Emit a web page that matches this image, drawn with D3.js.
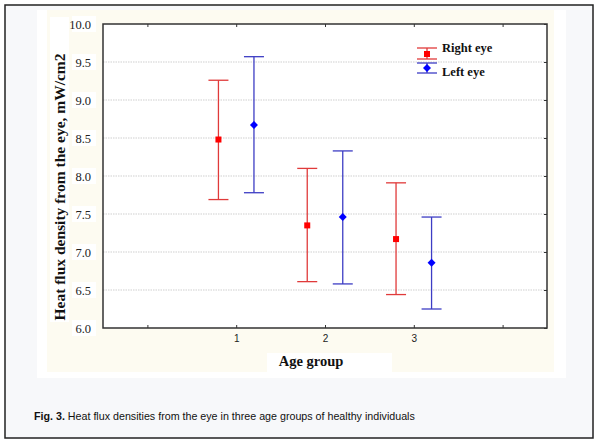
<!DOCTYPE html>
<html>
<head>
<meta charset="utf-8">
<script src="https://cdn.jsdelivr.net/npm/d3@7"></script>
<style>
body { margin: 0; background: #fff; }
</style>
</head>
<body>
<svg class="chart" width="600" height="445"></svg>
<script>
var groups = [1, 2, 3];
var seriesNames = ["Right eye", "Left eye"];
var rightMean = [8.48, 7.35, 7.17];
var rightLow = [7.69, 6.61, 6.44];
var rightHigh = [9.26, 8.10, 7.91];
var leftMean = [8.67, 7.46, 6.86];
var leftLow = [7.78, 6.58, 6.25];
var leftHigh = [9.57, 8.33, 7.46];
var yTicks = [6.0, 6.5, 7.0, 7.5, 8.0, 8.5, 9.0, 9.5, 10.0];
var xTicks = [0, 1, 2, 3, 4];

var lineColors = ["#e03a3a", "#3d3dc4"];
var markColors = ["#ff0000", "#0000ff"];
var serif = "'Liberation Serif', 'DejaVu Serif', serif";

var svg = d3.select(".chart");

// page background, frame and pasted panels
svg.append("rect").attr("x", 5).attr("y", 5).attr("width", 588).attr("height", 433)
    .style("fill", "#f7f8fa").style("stroke", "#222").style("stroke-width", 1.5);
svg.append("rect").attr("x", 37).attr("y", 10).attr("width", 529).attr("height", 368)
    .style("fill", "#fff");
svg.append("rect").attr("x", 47).attr("y", 10).attr("width", 507).attr("height", 362)
    .style("fill", "#fdfbf1");
svg.append("rect").attr("x", 50).attr("y", 17).attr("width", 19).attr("height", 305)
    .style("fill", "#fff");
svg.append("rect").attr("x", 267).attr("y", 353).attr("width", 125).attr("height", 25)
    .style("fill", "#fff");

var plot = {left: 103, top: 24, right: 547, bottom: 328};

var x = d3.scaleLinear().domain([-0.5, 4.5]).range([plot.left, plot.right]);
var y = d3.scaleLinear().domain([6, 10]).range([plot.bottom, plot.top]);

svg.append("rect")
    .attr("x", plot.left).attr("y", plot.top)
    .attr("width", plot.right - plot.left).attr("height", plot.bottom - plot.top)
    .style("fill", "#fff");

// grid
svg.selectAll(".grid")
    .data(yTicks.slice(1, -1))
    .enter().append("line")
    .attr("x1", plot.left).attr("x2", plot.right)
    .attr("y1", function(d) { return y(d); })
    .attr("y2", function(d) { return y(d); })
    .style("stroke", "#cfcfcf")
    .style("stroke-width", 1)
    .style("stroke-dasharray", "1.5,1");

// tick label boxes
svg.selectAll(".ylabbox")
    .data(yTicks)
    .enter().append("rect")
    .attr("x", 72).attr("width", 24)
    .attr("y", function(d) { return y(d) - 8; })
    .attr("height", 16)
    .style("fill", "#fff");

var yAxis = d3.axisLeft(y).tickValues(yTicks).tickFormat(d3.format(".1f")).tickSize(0).tickPadding(12);
var gy = svg.append("g").attr("transform", "translate(" + plot.left + ",0)").call(yAxis)
    .attr("font-family", serif).attr("font-size", 12.5);
gy.select(".domain").remove();
gy.selectAll("text").style("fill", "#222");

var yAxisR = d3.axisLeft(y).tickValues(yTicks).tickFormat("").tickSize(3);
var gyr = svg.append("g").attr("transform", "translate(" + plot.right + ",0)").call(yAxisR);
gyr.select(".domain").remove();

var xAxis = d3.axisTop(x).tickValues(xTicks)
    .tickFormat(function(d) { return groups.indexOf(d) >= 0 ? d : ""; })
    .tickSize(3).tickPadding(-17);
var gx = svg.append("g").attr("transform", "translate(0," + plot.bottom + ")").call(xAxis)
    .attr("font-family", "'Liberation Sans', Arial, sans-serif").attr("font-size", 10);
gx.select(".domain").remove();
gx.selectAll("text").style("fill", "#222");

var xAxisT = d3.axisBottom(x).tickValues(xTicks).tickFormat("").tickSize(3);
var gxt = svg.append("g").attr("transform", "translate(0," + plot.top + ")").call(xAxisT);
gxt.select(".domain").remove();

svg.selectAll(".tick line").style("stroke", "#333");

// plot frame
svg.append("path")
    .attr("d", "M" + plot.left + "," + plot.top + "H" + plot.right + "V" + plot.bottom + "H" + plot.left + "Z")
    .style("fill", "none").style("stroke", "#333").style("stroke-width", 1.5);

// error bars
var series = [
    {name: seriesNames[0], mean: rightMean, low: rightLow, high: rightHigh, off: -0.2},
    {name: seriesNames[1], mean: leftMean, low: leftLow, high: leftHigh, off: 0.2}
];

series.forEach(function(s, si) {
    var g = svg.append("g");
    groups.forEach(function(grp, i) {
        var cx = x(grp + s.off);
        g.append("line").attr("x1", cx).attr("x2", cx)
            .attr("y1", y(s.low[i])).attr("y2", y(s.high[i]))
            .style("stroke", lineColors[si]).style("stroke-width", 1.3);
        [s.low[i], s.high[i]].forEach(function(v) {
            g.append("line").attr("x1", cx - 10).attr("x2", cx + 10)
                .attr("y1", y(v)).attr("y2", y(v))
                .style("stroke", lineColors[si]).style("stroke-width", 1.3);
        });
        if (si == 0) {
            g.append("rect").attr("x", cx - 3).attr("y", y(s.mean[i]) - 3)
                .attr("width", 6).attr("height", 6).style("fill", markColors[si]);
        } else {
            g.append("path").attr("transform", "translate(" + cx + "," + y(s.mean[i]) + ")")
                .attr("d", "M0,-4L4,0L0,4L-4,0Z").style("fill", markColors[si]);
        }
    });
});

// legend
var legend = svg.append("g").attr("transform", "translate(427,0)");
[[48, 54, 59], [63, 68, 73]].forEach(function(p, i) {
    legend.append("line").attr("x1", 0).attr("x2", 0).attr("y1", p[0]).attr("y2", p[2])
        .style("stroke", lineColors[i]).style("stroke-width", 1.3);
    [p[0], p[2]].forEach(function(v) {
        legend.append("line").attr("x1", -10).attr("x2", 10).attr("y1", v).attr("y2", v)
            .style("stroke", lineColors[i]).style("stroke-width", 1.3);
    });
    if (i == 0) {
        legend.append("rect").attr("x", -3).attr("y", p[1] - 3).attr("width", 6).attr("height", 6)
            .style("fill", markColors[i]);
    } else {
        legend.append("path").attr("transform", "translate(0," + p[1] + ")")
            .attr("d", "M0,-4L4,0L0,4L-4,0Z").style("fill", markColors[i]);
    }
    legend.append("text").attr("x", 15).attr("y", i == 0 ? 52 : 76)
        .style("font-family", serif).style("font-weight", "bold")
        .style("font-size", "12.5px").style("fill", "#111")
        .text(seriesNames[i]);
});

// axis titles
svg.append("text")
    .attr("transform", "translate(65,187) rotate(-90)")
    .attr("text-anchor", "middle")
    .style("font-family", serif).style("font-weight", "bold")
    .style("font-size", "15.5px").style("fill", "#111")
    .text("Heat flux density from the eye, mW/cm2");

svg.append("text")
    .attr("x", 311).attr("y", 366)
    .attr("text-anchor", "middle")
    .style("font-family", serif).style("font-weight", "bold")
    .style("font-size", "14.5px").style("fill", "#111")
    .text("Age group");

// caption
var cap = svg.append("text").attr("x", 34).attr("y", 420)
    .style("font-family", "'Liberation Sans', Arial, sans-serif").style("font-size", "10.7px").style("fill", "#111");
cap.append("tspan").style("font-weight", "bold").text("Fig. 3.");
cap.append("tspan").text(" Heat flux densities from the eye in three age groups of healthy individuals");
</script>
</body>
</html>
